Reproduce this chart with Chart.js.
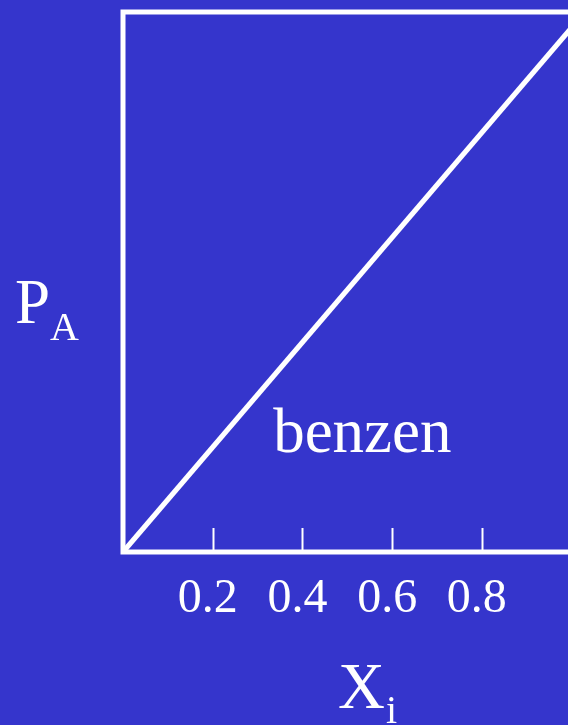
<!DOCTYPE html>
<html>
<head>
<meta charset="utf-8">
<script src="https://cdn.jsdelivr.net/npm/chart.js@4/dist/chart.umd.min.js"></script>
<style>
  html, body { margin: 0; padding: 0; background: #3535cc; overflow: hidden; }
  #wrap { width: 600px; height: 725px; }
</style>
</head>
<body>
<div id="wrap"><canvas id="chart" width="600" height="725"></canvas></div>
<script>
// Raoult line for benzene: partial pressure vs mole fraction
const moleFraction = [0, 1];
const pressure = [0, 1];
const tickValues = [0.2, 0.4, 0.6, 0.8];
const tickLabels = ['0.2', '0.4', '0.6', '0.8'];

const white = '#ffffff';
const serif = '"Liberation Serif", "Times New Roman", serif';

// Frame, inner tick marks and labels
const slidePlugin = {
  id: 'slide',
  afterDatasetsDraw(chart) {
    const { ctx, chartArea: a, scales } = chart;
    ctx.save();
    ctx.strokeStyle = white;
    ctx.lineWidth = 5;
    ctx.strokeRect(a.left, a.top, a.right - a.left, a.bottom - a.top);

    // tick marks point up into the plot
    const xt = scales.xt;
    ctx.lineWidth = 2;
    tickValues.forEach(v => {
      const px = Math.round(xt.getPixelForValue(v)) + 0.5;
      ctx.beginPath();
      ctx.moveTo(px, a.bottom);
      ctx.lineTo(px, a.bottom - 24);
      ctx.stroke();
    });

    ctx.fillStyle = white;
    ctx.textBaseline = 'alphabetic';
    ctx.textAlign = 'left';

    // line label
    ctx.font = '63px ' + serif;
    ctx.fillText('benzen', scales.x.getPixelForValue(0.325), scales.y.getPixelForValue(0.185));

    // y title P_A
    ctx.font = '63px ' + serif;
    ctx.fillText('P', a.left - 108, 323);
    ctx.font = '40px ' + serif;
    ctx.fillText('A', a.left - 73, 340);

    // x title X_i
    ctx.font = '65px ' + serif;
    ctx.fillText('X', 338, 708);
    ctx.font = '40px ' + serif;
    ctx.fillText('i', 386, 723);
    ctx.restore();
  }
};

new Chart(document.getElementById('chart'), {
  type: 'line',
  data: {
    datasets: [{
      data: moleFraction.map((x, i) => ({ x, y: pressure[i] })),
      borderColor: white,
      borderWidth: 5,
      pointRadius: 0,
      fill: false,
      clip: false
    }]
  },
  options: {
    responsive: false,
    animation: false,
    layout: { padding: { left: 123, top: 12, right: 15, bottom: 0 } },
    plugins: { legend: { display: false }, tooltip: { enabled: false } },
    scales: {
      x: { type: 'linear', min: 0, max: 1, display: false },
      y: { type: 'linear', min: 0, max: 1, display: false },
      xt: {
        type: 'linear',
        position: 'bottom',
        min: 0,
        max: 1.03,
        afterBuildTicks: s => { s.ticks = tickValues.map(v => ({ value: v })); },
        afterFit: s => { s.height = 173; },
        grid: { display: false, drawTicks: false },
        border: { display: false },
        ticks: {
          color: white,
          padding: 19,
          labelOffset: -5,
          maxRotation: 0,
          font: { family: serif, size: 48 },
          callback: (v, i) => tickLabels[i]
        }
      }
    }
  },
  plugins: [slidePlugin]
});
</script>
</body>
</html>
